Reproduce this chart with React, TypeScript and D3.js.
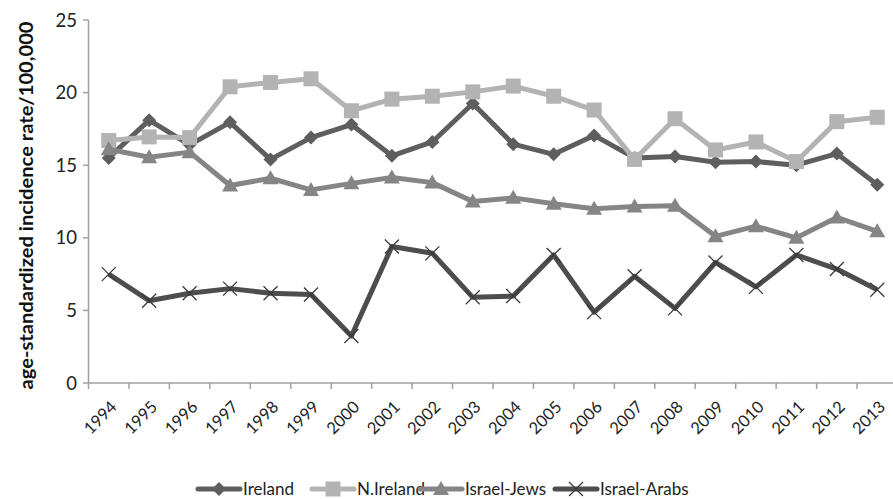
import React from "react";
import * as d3 from "d3";

const years = ["1994","1995","1996","1997","1998","1999","2000","2001","2002","2003","2004","2005","2006","2007","2008","2009","2010","2011","2012","2013"];
const ireland = [15.5,18.1,16.4,17.95,15.4,16.9,17.8,15.65,16.6,19.25,16.45,15.75,17.05,15.5,15.6,15.2,15.25,15.0,15.8,13.65];
const nIreland = [16.7,16.95,16.9,20.4,20.7,20.95,18.75,19.55,19.75,20.05,20.45,19.75,18.8,15.4,18.2,16.05,16.6,15.25,18.0,18.3];
const israelJews = [16.1,15.55,15.9,13.6,14.1,13.3,13.75,14.15,13.8,12.5,12.75,12.35,12.0,12.15,12.2,10.1,10.8,10.0,11.4,10.45];
const israelArabs = [7.5,5.67,6.18,6.5,6.18,6.1,3.24,9.4,8.93,5.9,5.99,8.82,4.88,7.35,5.14,8.3,6.62,8.82,7.85,6.42];
const yTicks = [0,5,10,15,20,25];

const series = [
  { name: "Ireland", values: ireland, color: "#5e5e5e", marker: "diamond" },
  { name: "N.Ireland", values: nIreland, color: "#b3b3b3", marker: "square" },
  { name: "Israel-Jews", values: israelJews, color: "#858585", marker: "triangle" },
  { name: "Israel-Arabs", values: israelArabs, color: "#4d4d4d", marker: "x" },
];

const FONT = "Lato, 'Open Sans', sans-serif";

function Marker({ type, x, y, color }: { type: string; x: number; y: number; color: string }) {
  if (type === "diamond") {
    const s = 7;
    return <path d={`M${x},${y - s}L${x + s},${y}L${x},${y + s}L${x - s},${y}Z`} fill={color} />;
  }
  if (type === "square") {
    const s = 7.5;
    return <rect x={x - s} y={y - s} width={2 * s} height={2 * s} fill={color} />;
  }
  if (type === "triangle") {
    const s = 8;
    return <path d={`M${x},${y - s}L${x + s},${y + 6}L${x - s},${y + 6}Z`} fill={color} />;
  }
  const s = 7;
  return (
    <path d={`M${x - s},${y - s}L${x + s},${y + s}M${x - s},${y + s}L${x + s},${y - s}`} stroke="#3a3a3a" strokeWidth={1.3} fill="none" />
  );
}

export default function App() {
  const W = 893, H = 499;
  const x = d3.scaleBand<string>().domain(years).range([88.5, 897.5]);
  const y = d3.scaleLinear().domain([0, 25]).range([383, 20]);
  const cx = (yr: string) => (x(yr) as number) + x.bandwidth() / 2;
  const line = d3.line<number>().x((_, i) => cx(years[i])).y((v) => y(v));
  const axisColor = "#a0a0a0";

  const legendItems = [
    { lx: 198, tx: 243 },
    { lx: 312, tx: 357 },
    { lx: 420, tx: 465 },
    { lx: 555, tx: 600 },
  ];

  return (
    <svg width={W} height={H} style={{ position: "absolute", left: 0, top: 0 }} fontFamily={FONT}>
      <rect width={W} height={H} fill="#fff" />
      {/* y axis */}
      <line x1={88.5} x2={88.5} y1={y(25)} y2={y(0)} stroke={axisColor} strokeWidth={1.5} />
      {yTicks.map((t) => (
        <g key={t}>
          <line x1={83} x2={88.5} y1={y(t)} y2={y(t)} stroke={axisColor} strokeWidth={1.5} />
          <text x={77} y={y(t)} dy="0.36em" textAnchor="end" fontSize={18.5} fill="#222">{t}</text>
        </g>
      ))}
      {/* x axis */}
      <line x1={88.5} x2={W} y1={y(0)} y2={y(0)} stroke={axisColor} strokeWidth={1.5} />
      {years.map((yr) => (
        <line key={yr} x1={x(yr) as number} x2={x(yr) as number} y1={y(0)} y2={y(0) + 6} stroke={axisColor} strokeWidth={1.5} />
      ))}
      {years.map((yr) => (
        <text key={"l" + yr} transform={`translate(${cx(yr) + 5},${y(0) + 21}) rotate(-45)`} textAnchor="end" dy="0.35em" fontSize={16.5} fill="#222">{yr}</text>
      ))}
      {/* y title */}
      <text transform={`translate(27,${(y(0) + y(25)) / 2 + 4}) rotate(-90)`} textAnchor="middle" dy="0.35em" fontSize={18} fontWeight="bold" fill="#111" textLength={368} lengthAdjust="spacingAndGlyphs">age-standardized incidence rate/100,000</text>
      {/* series */}
      {series.map((s) => (
        <g key={s.name}>
          <path d={line(s.values) || ""} fill="none" stroke={s.color} strokeWidth={5} strokeLinejoin="round" />
          {s.values.map((v, i) => (
            <Marker key={i} type={s.marker} x={cx(years[i])} y={y(v)} color={s.color} />
          ))}
        </g>
      ))}
      {/* legend */}
      {series.map((s, i) => (
        <g key={"lg" + s.name}>
          <line x1={legendItems[i].lx} x2={legendItems[i].lx + 42} y1={489} y2={489} stroke={s.color} strokeWidth={5} strokeLinecap="round" />
          <Marker type={s.marker} x={legendItems[i].lx + 21} y={489} color={s.color} />
          <text x={legendItems[i].tx} y={489} dy="0.35em" fontSize={17} fill="#222">{s.name}</text>
        </g>
      ))}
    </svg>
  );
}
